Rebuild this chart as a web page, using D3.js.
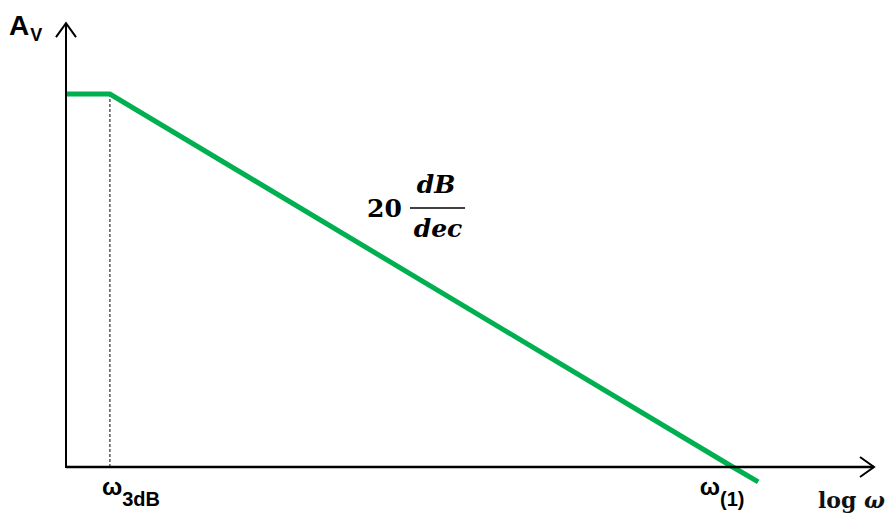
<!DOCTYPE html>
<html>
<head>
<meta charset="utf-8">
<script src="https://cdn.jsdelivr.net/npm/d3@7"></script>
<style>
  html, body { margin: 0; padding: 0; background: #fff; }
  svg { display: block; }
</style>
</head>
<body>
<script>
// Asymptotic Bode magnitude plot of a single-pole amplifier
const omegaRange = [44.4, 1.36e8];      // log-frequency span of the horizontal axis
const gainRange = [0, 100];              // dB span between the axis and the midband gain
const gainAxisTop = 119;                 // dB where the vertical axis arrow ends
const omega3dB = 100;
const omegaUnity = 1e7;
const responseOmega = [44.4, 100, 1e7, 1.6e7];
const responseGain = [100, 100, 0, -4];
const slopeLabel = { value: "20", num: "dB", den: "dec" };

const W = 893, H = 517;
const svg = d3.select("body").append("svg").attr("width", W).attr("height", H);

const x = d3.scaleLog().domain(omegaRange).range([66, 874]);
const y = d3.scaleLinear().domain(gainRange).range([467, 94]);

const sans = "Liberation Sans, Arial, sans-serif";
const serif = "DejaVu Serif, Liberation Serif, serif";

const defs = svg.append("defs");
defs.append("marker")
  .attr("id", "arrow")
  .attr("viewBox", "-17 -12 19 24")
  .attr("refX", 0).attr("refY", 0)
  .attr("markerUnits", "userSpaceOnUse")
  .attr("markerWidth", 19).attr("markerHeight", 24)
  .attr("orient", "auto")
  .append("path")
  .attr("d", "M-14,-10L0,0L-14,10")
  .attr("fill", "none").attr("stroke", "#000").attr("stroke-width", 2);

// dashed marker at the corner frequency
svg.append("line")
  .attr("x1", x(omega3dB)).attr("x2", x(omega3dB))
  .attr("y1", y(gainRange[1])).attr("y2", y(0))
  .attr("stroke", "#000").attr("stroke-width", 1)
  .attr("stroke-dasharray", "3,2");

// response curve
const pts = responseOmega.map((w, i) => [w, responseGain[i]]);
svg.append("path")
  .datum(pts)
  .attr("d", d3.line().x(d => x(d[0])).y(d => y(d[1])))
  .attr("fill", "none")
  .attr("stroke", "#00b050")
  .attr("stroke-width", 5);

// axes
svg.append("line")
  .attr("x1", x(omegaRange[0])).attr("y1", y(0))
  .attr("x2", x(omegaRange[1])).attr("y2", y(0))
  .attr("stroke", "#000").attr("stroke-width", 2.5)
  .attr("marker-end", "url(#arrow)");
svg.append("line")
  .attr("x1", x(omegaRange[0])).attr("y1", y(0) + 1)
  .attr("x2", x(omegaRange[0])).attr("y2", y(gainAxisTop))
  .attr("stroke", "#000").attr("stroke-width", 2)
  .attr("marker-end", "url(#arrow)");

// axis titles
const av = svg.append("text")
  .attr("x", 9).attr("y", 35)
  .attr("font-family", sans)
  .attr("font-weight", "bold").attr("font-size", 28);
av.append("tspan").text("A");
av.append("tspan").attr("dx", 1).attr("dy", 6).attr("font-size", 18).text("V");

function omegaLabel(xPos, sub) {
  const t = svg.append("text")
    .attr("x", xPos).attr("y", 495)
    .attr("font-family", sans)
    .attr("font-weight", "bold").attr("font-size", 24);
  t.append("tspan").text("ω");
  t.append("tspan").attr("dy", 11).attr("font-size", 20).text(sub);
}
omegaLabel(x(omega3dB) - 8, "3dB");
omegaLabel(x(omegaUnity) - 33, "(1)");

const logw = svg.append("text")
  .attr("x", 818).attr("y", 508)
  .attr("font-family", serif)
  .attr("font-weight", "bold").attr("font-size", 22)
  .attr("fill", "#111");
logw.append("tspan").text("log ");
logw.append("tspan").attr("font-style", "italic").text("ω");

// slope annotation
const fracX = 438;
svg.append("text")
  .attr("x", 367).attr("y", 217)
  .attr("font-family", serif)
  .attr("font-weight", "bold").attr("font-size", 25)
  .text(slopeLabel.value);
svg.append("line")
  .attr("x1", 410).attr("x2", 465).attr("y1", 208).attr("y2", 208)
  .attr("stroke", "#000").attr("stroke-width", 1.6);
svg.append("text")
  .attr("x", fracX - 2).attr("y", 193).attr("text-anchor", "middle")
  .attr("font-family", serif)
  .attr("font-weight", "bold").attr("font-style", "italic").attr("font-size", 25)
  .text(slopeLabel.num);
svg.append("text")
  .attr("x", fracX).attr("y", 237).attr("text-anchor", "middle")
  .attr("font-family", serif)
  .attr("font-weight", "bold").attr("font-style", "italic").attr("font-size", 25)
  .text(slopeLabel.den);
</script>
</body>
</html>
